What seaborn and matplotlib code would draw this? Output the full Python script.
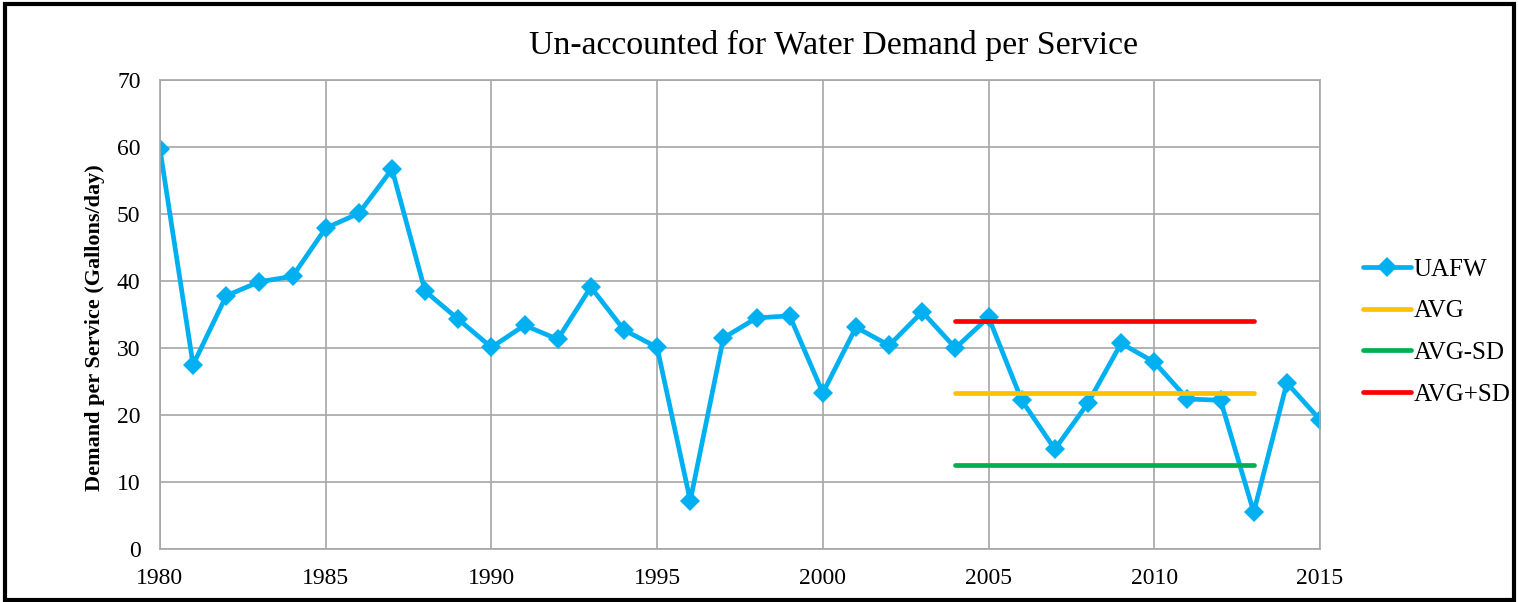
import numpy as np
import pandas as pd
import matplotlib
matplotlib.use("Agg")
import matplotlib.pyplot as plt
import seaborn as sns
from matplotlib.patches import Rectangle

# === Data ===
years = list(range(1980, 2016))
uafw = [59.7, 27.5, 37.8, 39.9, 40.7, 47.9, 50.1, 56.7, 38.5, 34.3,
        30.1, 33.4, 31.3, 39.1, 32.7, 30.1, 7.2, 31.5, 34.5, 34.8,
        23.3, 33.1, 30.4, 35.4, 30.0, 34.6, 22.2, 14.9, 21.8, 30.7,
        27.9, 22.4, 22.2, 5.5, 24.8, 19.3]

stat_years = [2004, 2013]
avg_val = 23.3
avg_minus_sd = 12.5
avg_plus_sd = 34.0

df = pd.DataFrame({"year": years, "UAFW": uafw})
stats = pd.DataFrame({
    "year": stat_years * 3,
    "value": [avg_val] * 2 + [avg_minus_sd] * 2 + [avg_plus_sd] * 2,
    "series": ["AVG"] * 2 + ["AVG-SD"] * 2 + ["AVG+SD"] * 2,
})

# === Style ===
sns.set_style("white")
plt.rcParams["font.family"] = ["Liberation Serif", "DejaVu Serif"]
plt.rcParams["text.color"] = "black"
plt.rcParams["axes.labelcolor"] = "black"
plt.rcParams["xtick.color"] = "black"
plt.rcParams["ytick.color"] = "black"

fig = plt.figure(figsize=(15.19, 6.02), dpi=100)
ax = fig.add_axes([0.1053, 0.088, 0.7637, 0.779])

sns.lineplot(data=df, x="year", y="UAFW", ax=ax, color="#00B0F0",
             linewidth=3.4, marker="D", markersize=10, markeredgewidth=0,
             label="UAFW")
sns.lineplot(data=stats, x="year", y="value", hue="series", ax=ax,
             palette={"AVG": "#FFC000", "AVG-SD": "#00B050", "AVG+SD": "#FF0000"},
             linewidth=3.4, solid_capstyle="round")

ax.set_xlim(1980, 2015)
ax.set_ylim(0, 70)
ax.set_xticks(range(1980, 2016, 5))
ax.set_yticks(range(0, 71, 10))
ax.grid(True, color="#A6A6A6", linewidth=1.2)
for s in ax.spines.values():
    s.set_color("#A6A6A6")
    s.set_linewidth(1.2)
ax.tick_params(axis="both", labelsize=17, length=0)
ax.tick_params(axis="x", pad=14)
ax.tick_params(axis="y", pad=14)
ax.set_xlabel("")
ax.set_ylabel("Demand per Service (Gallons/day)", fontsize=16, fontweight="bold")
ax.yaxis.set_label_coords(-0.047, 0.473)
ax.set_title("")
fig.text(0.549, 0.925, "Un-accounted for Water Demand per Service",
         fontsize=24.3, ha="center", va="center")

handles, labels = ax.get_legend_handles_labels()
order = ["UAFW", "AVG", "AVG-SD", "AVG+SD"]
hmap = dict(zip(labels, handles))
ax.legend([hmap[k] for k in order], order, loc="center left",
          bbox_to_anchor=(1.018, 0.463), frameon=False, fontsize=18,
          handlelength=1.9, handletextpad=0.1, labelspacing=0.77)

# outer black frame
fig.patches.append(Rectangle((0.003, 0.004), 0.994, 0.99, transform=fig.transFigure,
                             fill=False, edgecolor="black", linewidth=3))

fig.savefig("out.png", dpi=100)
